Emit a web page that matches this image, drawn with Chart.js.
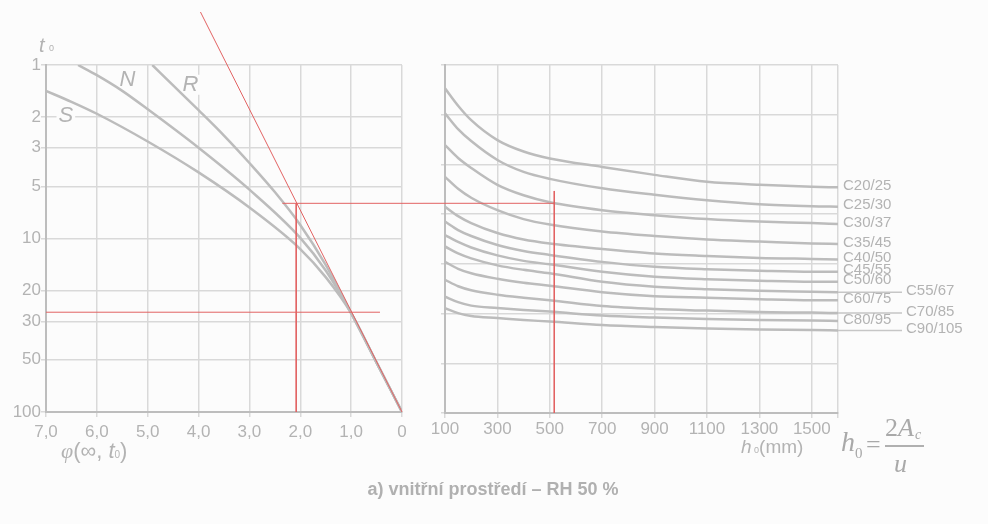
<!DOCTYPE html>
<html>
<head>
<meta charset="utf-8">
<script src="https://cdn.jsdelivr.net/npm/chart.js@4.4.1/dist/chart.umd.min.js"></script>
<style>
  html, body { margin: 0; padding: 0; background: #fcfcfc; }
  #wrap { position: relative; width: 988px; height: 524px; overflow: hidden;
          font-family: "Liberation Sans", Arial, sans-serif; color: #b3b3b3; }
  canvas { position: absolute; top: 0; }
  #left { left: 0; }
  #right { left: 423px; }
  .t { position: absolute; white-space: nowrap; line-height: 1; }
  .serif { font-family: "Liberation Serif", "Times New Roman", serif; font-style: italic; color: #a9a9a9; }
</style>
</head>
<body>
<div id="wrap">
  <canvas id="left" width="423" height="524" style="width:423px;height:524px"></canvas>
  <canvas id="right" width="565" height="524" style="width:565px;height:524px"></canvas>

  <div class="t" style="left:39px;top:35px;font-size:20px;font-style:italic">t</div>
  <div class="t" style="left:49px;top:44px;font-size:9px">0</div>

  <div class="t" style="left:61px;top:440px;font-size:22px">
    <span class="serif" style="color:#b3b3b3">φ</span>(∞, <i>t</i><span style="font-size:10px">0</span>)
  </div>

  <div class="t" style="left:741px;top:437px;font-size:19px"><i>h</i><span style="font-size:9px"> 0</span>(mm)</div>

  <div class="t serif" style="left:841px;top:428px;font-size:28px">h</div>
  <div class="t serif" style="left:855px;top:446px;font-size:15px;font-style:normal">0</div>
  <div class="t serif" style="left:866px;top:432px;font-size:26px;font-style:normal">=</div>
  <div class="t serif" style="left:885px;top:415px;font-size:26px;font-style:normal">2<i>A</i></div>
  <div class="t serif" style="left:915px;top:428px;font-size:14px">c</div>
  <div style="position:absolute;left:885px;top:445px;width:39px;height:1.5px;background:#b0b0b0"></div>
  <div class="t serif" style="left:894px;top:451px;font-size:26px">u</div>

  <div class="t" style="left:293px;top:480px;width:400px;text-align:center;font-size:18px;font-weight:bold;color:#b0b0b0">a) vnitřní prostředí – RH 50 %</div>
</div>

<script>
// left panel: creep coefficient vs. age at loading
const phiTicks = [0, 1, 2, 3, 4, 5, 6, 7];
const t0Ticks = [1, 2, 3, 5, 10, 20, 30, 50, 100];

const phiS = [7.0, 6.5, 6.0, 5.0, 4.0, 3.0, 2.0, 1.5, 1.0, 0.5, 0];
const t0S  = [1.41, 1.63, 1.91, 2.76, 4.16, 6.63, 11.5, 16.7, 26.9, 51.9, 100];
const phiN = [6.37, 6.0, 5.5, 5.0, 4.0, 3.0, 2.0, 1.5, 1.0, 0.5, 0];
const t0N  = [1.0, 1.145, 1.41, 1.80, 3.00, 5.23, 9.92, 15.3, 26.9, 51.9, 100];
const phiR = [4.91, 4.5, 4.0, 3.5, 3.0, 2.5, 2.0, 1.5, 1.0, 0.5, 0];
const t0R  = [1.0, 1.31, 1.82, 2.55, 3.67, 5.40, 8.35, 14.2, 26.9, 51.9, 100];

const cementNames = ['S', 'N', 'R'];
const cementLabelPhi = [6.61, 5.40, 4.16];
const cementLabelT0 = [1.97, 1.22, 1.30];

// red construction lines (left)
const redSlopePhi = [3.963, 0];
const redSlopeT0 = [0.495, 100];
const redUpperPhi = [2.352, -0.45];
const redUpperT0 = [6.27, 6.27];
const redDropPhi = [2.08, 2.08];
const redDropT0 = [6.27, 100];
const redLowerPhi = [7.0, 0.433];
const redLowerT0 = [26.6, 26.6];

// right panel: notional size h0 for concrete classes
const h0 = [100, 150, 200, 300, 400, 500, 700, 900, 1100, 1300, 1500, 1600];
const h0Ticks = [100, 300, 500, 700, 900, 1100, 1300, 1500, 1600];
const classNames = ['C20/25', 'C25/30', 'C30/37', 'C35/45', 'C40/50', 'C45/55',
                    'C50/60', 'C55/67', 'C60/75', 'C70/85', 'C80/95', 'C90/105'];
const classLeader = [false, false, false, false, false, false, false, true, false, true, false, true];

const c20_25  = [6.53, 6.18, 5.89, 5.49, 5.26, 5.12, 4.95, 4.79, 4.65, 4.59, 4.55, 4.54];
const c25_30  = [6.03, 5.71, 5.47, 5.09, 4.85, 4.71, 4.52, 4.39, 4.28, 4.20, 4.16, 4.15];
const c30_37  = [5.39, 5.13, 4.93, 4.59, 4.38, 4.24, 4.08, 3.98, 3.90, 3.85, 3.82, 3.80];
const c35_45  = [4.75, 4.51, 4.33, 4.08, 3.90, 3.79, 3.65, 3.56, 3.49, 3.45, 3.41, 3.40];
const c40_50  = [4.15, 3.96, 3.82, 3.62, 3.49, 3.41, 3.30, 3.21, 3.16, 3.12, 3.10, 3.09];
const c45_55  = [3.85, 3.68, 3.56, 3.38, 3.26, 3.18, 3.04, 2.94, 2.89, 2.86, 2.84, 2.84];
const c50_60  = [3.58, 3.44, 3.33, 3.17, 3.06, 2.99, 2.84, 2.74, 2.69, 2.66, 2.64, 2.64];
const c55_67  = [3.35, 3.21, 3.11, 2.97, 2.88, 2.81, 2.64, 2.54, 2.49, 2.46, 2.44, 2.43];
const c60_75  = [3.04, 2.90, 2.81, 2.70, 2.62, 2.56, 2.43, 2.35, 2.32, 2.29, 2.27, 2.27];
const c70_85  = [2.68, 2.55, 2.47, 2.38, 2.32, 2.27, 2.15, 2.09, 2.06, 2.03, 2.02, 2.01];
const c80_95  = [2.34, 2.23, 2.16, 2.11, 2.07, 2.04, 1.96, 1.92, 1.89, 1.87, 1.86, 1.85];
const c90_105 = [2.11, 2.01, 1.95, 1.91, 1.87, 1.84, 1.77, 1.73, 1.70, 1.68, 1.67, 1.66];
const classValues = [c20_25, c25_30, c30_37, c35_45, c40_50, c45_55,
                     c50_60, c55_67, c60_75, c70_85, c80_95, c90_105];

// red construction lines (right)
const redRightH0 = [10, 517];
const redRightV = [4.218, 4.218];
const redUpH0 = [517, 517];
const redUpV = [4.466, 0];

const gridColor = '#d9d9d9';
const axisColor = '#bdbdbd';
const curveColor = '#bcbcbc';
const textColor = '#b3b3b3';
const red = '#e26262';
const tickFont = { family: 'Liberation Sans', size: 17 };

function pts(xs, ys) {
  return xs.map((x, i) => ({ x: x, y: ys[i] }));
}

function curve(xs, ys) {
  return { data: pts(xs, ys), borderColor: curveColor, borderWidth: 2.5,
           cubicInterpolationMode: 'monotone', pointRadius: 0 };
}

function redLine(xs, ys) {
  return { data: pts(xs, ys), borderColor: red, borderWidth: 1, pointRadius: 0,
           tension: 0, clip: false, order: -1 };
}

const cementLabels = {
  id: 'cementLabels',
  beforeDatasetsDraw(chart) {
    const { ctx, scales: { x, y } } = chart;
    ctx.save();
    ctx.font = 'italic 22px "Liberation Sans"';
    ctx.textAlign = 'center';
    ctx.textBaseline = 'middle';
    cementNames.forEach((name, i) => {
      const px = x.getPixelForValue(cementLabelPhi[i]);
      const py = y.getPixelForValue(cementLabelT0[i]);
      const w = ctx.measureText(name).width;
      ctx.fillStyle = '#fcfcfc';
      ctx.fillRect(px - w / 2 - 2, py - 10, w + 4, 20);
      ctx.fillStyle = textColor;
      ctx.fillText(name, px, py);
    });
    ctx.restore();
  }
};

const classLabels = {
  id: 'classLabels',
  afterDatasetsDraw(chart) {
    const { ctx, chartArea } = chart;
    ctx.save();
    ctx.font = '15px "Liberation Sans"';
    ctx.textBaseline = 'middle';
    ctx.fillStyle = textColor;
    ctx.strokeStyle = '#c6c6c6';
    ctx.lineWidth = 1.5;
    classNames.forEach((name, i) => {
      const points = chart.getDatasetMeta(i).data;
      const yEnd = points[points.length - 1].y;
      let tx = chartArea.right + 5;
      if (classLeader[i]) {
        ctx.beginPath();
        ctx.moveTo(chartArea.right, yEnd);
        ctx.lineTo(chartArea.right + 64, yEnd);
        ctx.stroke();
        tx = chartArea.right + 68;
      }
      ctx.fillText(name, tx, yEnd - 1.5);
    });
    ctx.restore();
  }
};

new Chart(document.getElementById('left'), {
  type: 'line',
  data: {
    datasets: [
      curve(phiS, t0S), curve(phiN, t0N), curve(phiR, t0R),
      redLine(redSlopePhi, redSlopeT0), redLine(redUpperPhi, redUpperT0),
      redLine(redDropPhi, redDropT0), redLine(redLowerPhi, redLowerT0)
    ]
  },
  options: {
    responsive: false,
    animation: false,
    devicePixelRatio: 1,
    layout: { padding: { left: 0, right: 21, top: 65, bottom: 72 } },
    plugins: { legend: { display: false }, tooltip: { enabled: false } },
    scales: {
      x: {
        type: 'linear', min: 0, max: 7, reverse: true,
        afterBuildTicks: s => { s.ticks = phiTicks.map(v => ({ value: v })); },
        afterFit: s => { s.height = 40; },
        ticks: {
          callback: v => v === 0 ? '0' : v.toFixed(1).replace('.', ','),
          font: tickFont, color: textColor, padding: 5, maxRotation: 0, autoSkip: false
        },
        grid: { color: gridColor, lineWidth: 1.5, tickLength: 5, tickColor: gridColor },
        border: { color: axisColor, width: 2 }
      },
      y: {
        type: 'logarithmic', min: 1, max: 100, reverse: true,
        afterBuildTicks: s => { s.ticks = t0Ticks.map(v => ({ value: v })); },
        afterFit: s => { s.width = 46; },
        ticks: { callback: v => String(v), font: tickFont, color: textColor, padding: 0, autoSkip: false },
        grid: { color: gridColor, lineWidth: 1.5, tickLength: 5, tickColor: gridColor },
        border: { color: axisColor, width: 2 }
      }
    }
  },
  plugins: [cementLabels]
});

new Chart(document.getElementById('right'), {
  type: 'line',
  data: {
    datasets: classValues.map(vals => curve(h0, vals)).concat([
      redLine(redRightH0, redRightV), redLine(redUpH0, redUpV)
    ])
  },
  options: {
    responsive: false,
    animation: false,
    devicePixelRatio: 1,
    layout: { padding: { left: 0, right: 150, top: 65, bottom: 71 } },
    plugins: { legend: { display: false }, tooltip: { enabled: false } },
    scales: {
      x: {
        type: 'linear', min: 100, max: 1600,
        afterBuildTicks: s => { s.ticks = h0Ticks.map(v => ({ value: v })); },
        afterFit: s => { s.height = 40; },
        ticks: {
          callback: v => v === 1600 ? '' : String(v),
          font: tickFont, color: textColor, padding: 1, maxRotation: 0, autoSkip: false
        },
        grid: { color: gridColor, lineWidth: 1.5, tickLength: 5, tickColor: gridColor },
        border: { color: axisColor, width: 2 }
      },
      y: {
        type: 'linear', min: 0, max: 7,
        afterBuildTicks: s => { s.ticks = phiTicks.map(v => ({ value: v })); },
        afterFit: s => { s.width = 22; },
        ticks: { display: false },
        grid: { color: gridColor, lineWidth: 1.5, tickLength: 4, tickColor: gridColor },
        border: { color: axisColor, width: 2 }
      }
    }
  },
  plugins: [classLabels]
});
</script>
</body>
</html>
